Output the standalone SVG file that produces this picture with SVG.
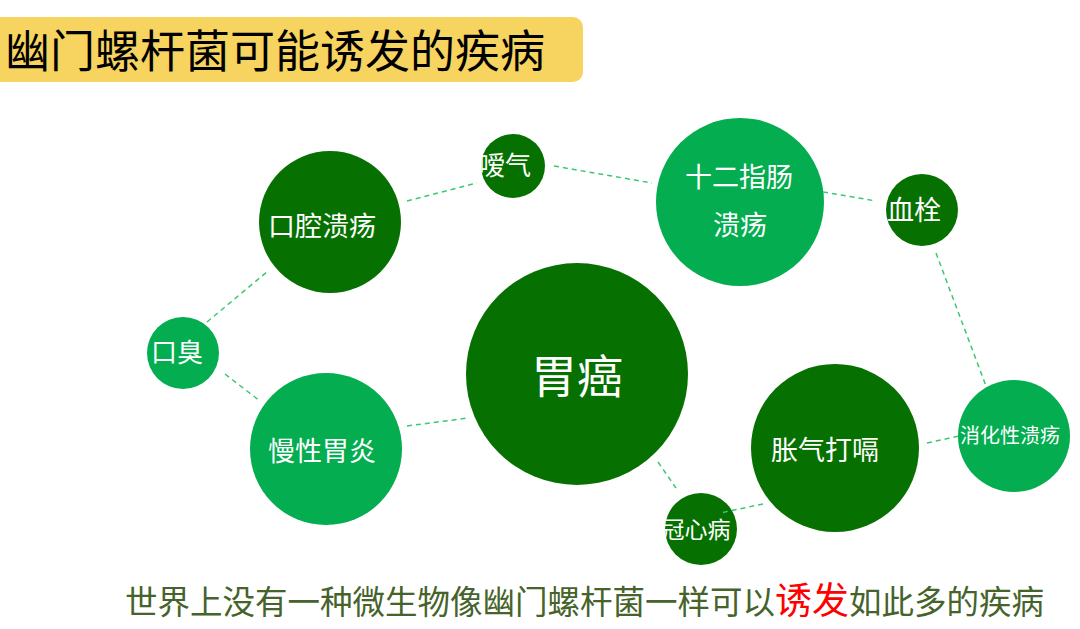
<svg xmlns="http://www.w3.org/2000/svg" width="1080" height="629" viewBox="0 0 1080 629">
<style>
.dk{fill:#067100}
.lt{fill:#03AD50}
.lbl{fill:#ffffff;font-family:"Noto Sans CJK SC","Noto Sans",sans-serif;text-anchor:middle;dominant-baseline:central}
.cn{stroke:#3CC873;stroke-width:1.5;stroke-dasharray:5 4;fill:none}
</style>
<rect width="1080" height="629" fill="#ffffff"/>
<g id="title">
<rect x="-20" y="17" width="603" height="65" rx="10" fill="#F7D360"/>
<text x="5" y="68" font-family="'Noto Sans CJK SC',sans-serif" font-size="45" fill="#000000">幽门螺杆菌可能诱发的疾病</text>
</g>
<g id="n-weiai"><circle class="dk" cx="577" cy="374" r="111"/><text class="lbl" x="577" y="373" font-size="46">胃癌</text></g>
<g id="n-kqky"><circle class="dk" cx="330" cy="222" r="71"/><text class="lbl" x="322" y="224" font-size="27">口腔溃疡</text></g>
<g id="n-aiqi"><circle class="dk" cx="513" cy="166" r="32"/><text class="lbl" x="505" y="163" font-size="26">嗳气</text></g>
<g id="n-kouchou"><circle class="lt" cx="183" cy="353" r="36"/><text class="lbl" x="177" y="350" font-size="26">口臭</text></g>
<g id="n-mxwy"><circle class="lt" cx="326" cy="449" r="76"/><text class="lbl" x="322" y="449" font-size="27">慢性胃炎</text></g>
<g id="n-sezc"><circle class="lt" cx="740" cy="202" r="84"/><text class="lbl" x="739" y="175" font-size="27">十二指肠</text><text class="lbl" x="740" y="223" font-size="27">溃疡</text></g>
<g id="n-xueshuan"><circle class="dk" cx="922" cy="210" r="36"/><text class="lbl" x="914" y="208" font-size="27">血栓</text></g>
<g id="n-xhxky"><circle class="lt" cx="1014" cy="436" r="56"/><text class="lbl" x="1010" y="434" font-size="20">消化性溃疡</text></g>
<g id="n-zqdg"><circle class="dk" cx="835" cy="448" r="84"/><text class="lbl" x="825" y="448" font-size="27">胀气打嗝</text></g>
<g id="n-gxb"><circle class="dk" cx="701" cy="529" r="36"/><text class="lbl" x="696" y="528" font-size="23">冠心病</text></g>
<g id="connectors">
<line class="cn" x1="407" y1="201" x2="477" y2="183"/>
<line class="cn" x1="554" y1="166" x2="652" y2="183"/>
<line class="cn" x1="823" y1="192" x2="876" y2="201"/>
<line class="cn" x1="936" y1="253" x2="986" y2="386"/>
<line class="cn" x1="927" y1="443" x2="959" y2="436"/>
<line class="cn" x1="763" y1="504" x2="720" y2="513"/>
<line class="cn" x1="658" y1="462" x2="676" y2="488"/>
<line class="cn" x1="407" y1="426" x2="468" y2="418"/>
<line class="cn" x1="207" y1="322" x2="268" y2="271"/>
<line class="cn" x1="225" y1="374" x2="260" y2="401"/>
</g>
<g id="caption">
<text x="125" y="614" font-family="'Noto Sans CJK SC',sans-serif" font-size="32.5" fill="#45632A">世界上没有一种微生物像幽门螺杆菌一样可以<tspan fill="#FF0000" font-size="37">诱发</tspan>如此多的疾病</text>
</g>
</svg>
